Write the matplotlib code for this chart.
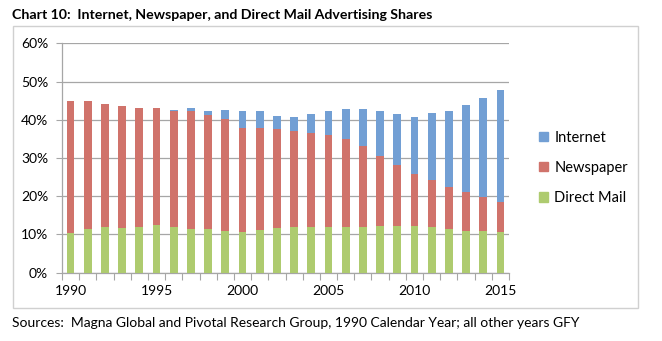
import numpy as np
import matplotlib.pyplot as plt
from matplotlib.patches import Rectangle, Patch

plt.rcParams['font.family'] = ['Lato', 'DejaVu Sans']

years = list(range(1990, 2016))
# cumulative tops (%)
direct_mail = [10.3, 11.4, 11.9, 11.6, 11.9, 12.4, 11.9, 11.5, 11.4, 11.0, 10.6, 11.1, 11.6,
               11.9, 11.9, 11.9, 11.9, 11.9, 12.1, 12.1, 12.1, 11.9, 11.3, 11.0, 10.8, 10.7]
newspaper_top = [45.0, 44.8, 44.1, 43.7, 43.0, 43.1, 42.4, 42.4, 41.3, 40.3, 37.9, 37.9, 37.5,
                 37.0, 36.5, 36.1, 34.9, 33.2, 30.6, 28.2, 25.9, 24.2, 22.3, 21.1, 19.8, 18.5]
internet_top = [45.0, 44.8, 44.1, 43.7, 43.0, 43.1, 42.5, 43.0, 42.4, 42.5, 42.3, 42.2, 41.0,
                40.8, 41.4, 42.2, 42.7, 42.9, 42.3, 41.6, 40.6, 41.7, 42.4, 43.8, 45.6, 47.7]

dm = np.array(direct_mail)
news = np.array(newspaper_top) - dm
inet = np.array(internet_top) - np.array(newspaper_top)

c_inet = '#729fd4'
c_news = '#d0736b'
c_dm = '#aecb6f'

fig = plt.figure(figsize=(6.62, 3.41), dpi=100)
ax = fig.add_axes([62/662, 1-272.7/341, (509-62)/662, (272.7-43.3)/341])

x = np.arange(len(years))
w = 0.45
ax.bar(x, dm, w, color=c_dm, edgecolor='none', zorder=3)
ax.bar(x, news, w, bottom=dm, color=c_news, edgecolor='none', zorder=3)
ax.bar(x, inet, w, bottom=dm + news, color=c_inet, edgecolor='none', zorder=3)

ax.set_xlim(-0.5, len(years) - 0.5)
ax.set_ylim(0, 60)
ax.set_yticks(range(0, 61, 10))
ax.set_yticklabels(['%d%%' % v for v in range(0, 61, 10)], fontsize=10)
ax.yaxis.grid(True, color='#a6a6a6', linewidth=0.9, zorder=0)

# ticks between categories, labels every 5 years
ax.set_xticks(np.arange(-0.5, len(years), 1))
ax.set_xticklabels([])
ax.set_xticks([i for i, yr in enumerate(years) if yr % 5 == 0], minor=True)
ax.set_xticklabels([str(yr) for yr in years if yr % 5 == 0], minor=True, fontsize=10)
ax.tick_params(axis='x', which='major', length=5, color='#a6a6a6', direction='out')
ax.tick_params(axis='x', which='minor', length=0, pad=9)
ax.tick_params(axis='y', length=4, color='#a6a6a6', pad=6)

for s in ['top', 'right']:
    ax.spines[s].set_visible(False)
for s in ['left', 'bottom']:
    ax.spines[s].set_color('#a6a6a6')
    ax.spines[s].set_linewidth(0.9)

handles = [Patch(color=c_inet), Patch(color=c_news), Patch(color=c_dm)]
fig.legend(handles, ['Internet', 'Newspaper', 'Direct Mail'], loc='center left',
           bbox_to_anchor=(526/662, 1-168/341), frameon=False, fontsize=10.5,
           handlelength=0.6, handleheight=0.6, handletextpad=0.45, labelspacing=1.1)

fig.patches.append(Rectangle((13/662, 1-308/341), 625/662, 282/341, transform=fig.transFigure,
                             fill=False, edgecolor='#d0d0d0', linewidth=1.0))

fig.text(12/662, 1-15/341, 'Chart 10:  Internet, Newspaper, and Direct Mail Advertising Shares',
         fontsize=10.2, fontweight='bold', va='center', ha='left')
fig.text(12/662, 1-323/341, 'Sources:  Magna Global and Pivotal Research Group, 1990 Calendar Year; all other years GFY',
         fontsize=10, va='center', ha='left')

fig.savefig('out.png', dpi=100)
